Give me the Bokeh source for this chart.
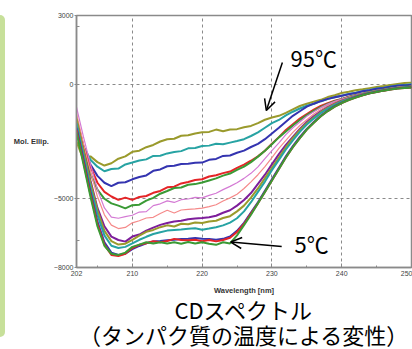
from bokeh.plotting import figure
from bokeh.models import FixedTicker, Label, Arrow, OpenHead, Range1d, Title, Div
from bokeh.layouts import row
from bokeh.embed import file_html
from bokeh.resources import INLINE

# ---- data ----
wavelength = list(range(202, 251))

c_olive1 = [-2500, -3300, -3150, -3400, -3550, -3450, -3250, -3150, -2950, -2900, -2750, -2650, -2500, -2400,
            -2380, -2250, -2230, -2150, -2100, -2080, -1980, -2050, -1980, -1960, -1880, -1820, -1700, -1550,
            -1450, -1380, -1250, -1100, -950, -850, -760, -680, -560, -480, -380, -330, -260, -220, -170, -120,
            -80, -30, 10, 50, 70]
c_teal1 = [-1900, -2700, -3300, -3600, -3800, -3700, -3680, -3500, -3420, -3330, -3280, -3130, -3120, -3020,
           -2960, -2920, -2800, -2780, -2700, -2680, -2600, -2620, -2550, -2480, -2400, -2260, -2100, -1900,
           -1700, -1560, -1360, -1200, -1060, -940, -850, -740, -650, -570, -500, -430, -370, -300, -250, -190,
           -150, -100, -60, -30, 0]
c_blue1 = [-1800, -2800, -3500, -4000, -4300, -4450, -4300, -4280, -4150, -4050, -3980, -3780, -3720, -3580,
           -3560, -3480, -3470, -3430, -3420, -3300, -3260, -3130, -3110, -2990, -2900, -2740, -2600, -2400,
           -2150, -1900, -1640, -1380, -1180, -980, -850, -740, -640, -570, -500, -440, -380, -310, -260, -200,
           -160, -110, -70, -50, -20]
c_red1 = [-1500, -2700, -3600, -4300, -4700, -4900, -5050, -4950, -5050, -4920, -4880, -4740, -4660, -4500,
          -4470, -4330, -4270, -4180, -4150, -4030, -3970, -3880, -3810, -3650, -3510, -3340, -3150, -2900,
          -2600, -2310, -2000, -1750, -1500, -1300, -1110, -950, -830, -720, -640, -550, -480, -410, -350,
          -290, -240, -200, -160, -130, -110]
c_green1 = [-1700, -2900, -3900, -4600, -5000, -5200, -5300, -5420, -5280, -5260, -5080, -4960, -4780, -4660,
            -4530, -4510, -4390, -4360, -4290, -4200, -4110, -3990, -3900, -3740, -3600, -3400, -3160, -2900,
            -2620, -2320, -2060, -1800, -1560, -1350, -1160, -1000, -860, -740, -650, -560, -480, -410, -340,
            -280, -230, -180, -140, -110, -90]
c_pink = [-1000, -2300, -3500, -4600, -5400, -5800, -5850, -5780, -5720, -5580, -5560, -5300, -5220, -5090,
          -5160, -5040, -5010, -4940, -4960, -4850, -4760, -4600, -4460, -4300, -4110, -3890, -3610, -3250,
          -2900, -2560, -2200, -1900, -1650, -1400, -1200, -1020, -870, -750, -650, -560, -480, -410, -340,
          -280, -230, -180, -140, -110, -90]
c_salmon = [-1300, -2600, -3800, -4900, -5700, -6150, -6300, -6250, -6050, -5960, -5840, -5810, -5640, -5500,
            -5620, -5490, -5460, -5440, -5410, -5340, -5260, -5100, -4960, -4800, -4550, -4260, -3950, -3600,
            -3200, -2800, -2450, -2100, -1800, -1550, -1300, -1100, -930, -790, -680, -580, -500, -420, -350,
            -290, -240, -190, -150, -120, -100]
c_purple = [-1600, -2900, -4200, -5400, -6200, -6650, -6800, -6870, -6650, -6560, -6390, -6260, -6140, -6060,
            -5990, -5960, -5890, -5860, -5840, -5810, -5740, -5610, -5500, -5300, -5050, -4750, -4350, -3950,
            -3500, -3050, -2650, -2300, -1950, -1650, -1400, -1180, -1000, -850, -720, -610, -520, -440, -370,
            -300, -250, -200, -160, -130, -110]
c_olive2 = [-1500, -2900, -4300, -5500, -6400, -6850, -7000, -6960, -6790, -6610, -6440, -6360, -6240, -6160,
            -6210, -6090, -6110, -6040, -6060, -5990, -5960, -5840, -5760, -5550, -5300, -4950, -4550, -4100,
            -3650, -3200, -2750, -2350, -2000, -1700, -1450, -1220, -1030, -870, -740, -620, -530, -450, -370,
            -310, -250, -200, -160, -130, -110]
c_teal2 = [-1700, -3100, -4500, -5700, -6600, -7050, -7150, -7100, -6950, -6790, -6660, -6540, -6460, -6390,
           -6360, -6340, -6310, -6290, -6350, -6300, -6240, -6160, -6040, -5850, -5550, -5150, -4700, -4250,
           -3750, -3300, -2850, -2450, -2080, -1760, -1500, -1260, -1060, -900, -760, -640, -540, -460, -380,
           -320, -260, -210, -170, -140, -120]
c_blue2 = [-1900, -3300, -4700, -6000, -6900, -7350, -7450, -7400, -7200, -7060, -6940, -6860, -6840, -6810,
           -6790, -6760, -6740, -6710, -6750, -6760, -6790, -6750, -6650, -6400, -6050, -5600, -5150, -4650,
           -4150, -3650, -3150, -2700, -2300, -1950, -1650, -1380, -1150, -960, -800, -670, -560, -470, -390,
           -330, -270, -220, -180, -150, -130]
c_red2 = [-2000, -3400, -4800, -6100, -7000, -7450, -7500, -7400, -7150, -7010, -6940, -6850, -6900, -6840,
          -6750, -6800, -6810, -6790, -6850, -6800, -6860, -6800, -6700, -6450, -6100, -5650, -5200, -4700,
          -4200, -3700, -3200, -2750, -2350, -1980, -1680, -1400, -1170, -980, -820, -690, -580, -480, -400,
          -340, -280, -230, -190, -160, -140]
c_green2 = [-2100, -3500, -4900, -6200, -7050, -7400, -7450, -7350, -7100, -7000, -6900, -6950, -6900, -6950,
            -6900, -6960, -6890, -6950, -6900, -6960, -7010, -6900, -6950, -6600, -6150, -5700, -5200, -4700,
            -4200, -3700, -3200, -2750, -2350, -1980, -1680, -1400, -1170, -980, -820, -690, -580, -480, -400,
            -340, -280, -230, -190, -160, -140]

series = [c_olive1, c_teal1, c_blue1, c_red1, c_green1, c_pink, c_salmon, c_purple,
          c_olive2, c_teal2, c_blue2, c_red2, c_green2]
colors = ["#9a9a2c", "#27a3a3", "#3434b0", "#e52427", "#3a9a35", "#d47ad4", "#f58a8a", "#7d1e9b",
          "#9a9a2c", "#27a3a3", "#3434b0", "#e52427", "#3a9a35"]
widths = [2, 2, 2, 2, 2, 1.2, 1.2, 2, 2, 2, 2, 2, 2]

x_ticks = [202, 210, 220, 230, 240, 250]
x_minor = [205, 215, 225, 235, 245]
x_grid = [210, 220, 230, 240]
y_ticks = [-8000, -5000, 0, 3000]
y_minor = [2500, -6800]
y_grid = [-5000, 0]

caption_1 = "CDスペクトル"
caption_2 = "（タンパク質の温度による変性）"

FONT_JP = "Noto Sans CJK JP"

p = figure(width=407, height=349, x_range=Range1d(202, 250), y_range=Range1d(-8000, 3000),
           output_backend="svg", toolbar_location=None,
           min_border_left=71, min_border_right=1, min_border_top=15, min_border_bottom=82)
p.background_fill_color = "white"
p.border_fill_color = "white"
p.outline_line_color = "#8a8a8a"
p.outline_line_width = 1.5

for ys, c, w in zip(series, colors, widths):
    p.line(wavelength, ys, line_color=c, line_width=w)

# axes
p.xaxis.ticker = FixedTicker(ticks=x_ticks, minor_ticks=x_minor)
p.yaxis.ticker = FixedTicker(ticks=y_ticks, minor_ticks=y_minor)
for ax in (p.xaxis[0], p.yaxis[0]):
    ax.axis_line_color = "#8a8a8a"
    ax.axis_line_width = 1.5
    ax.major_tick_line_color = "#8a8a8a"
    ax.minor_tick_line_color = "#8a8a8a"
    ax.major_label_text_font = "Liberation Sans"
    ax.major_label_text_font_size = "7px"
    ax.major_label_text_color = "#444444"
    ax.axis_label_text_font = "Liberation Sans"
    ax.axis_label_text_font_size = "7.5px"
    ax.axis_label_text_font_style = "bold"
    ax.axis_label_text_color = "#333333"
p.xaxis.major_tick_in = 4
p.xaxis.major_tick_out = 0
p.xaxis.minor_tick_in = 2
p.xaxis.minor_tick_out = 0
p.xaxis.major_label_standoff = 3
p.xaxis.axis_label = "Wavelength [nm]"
p.xaxis.axis_label_standoff = 7
p.yaxis.major_tick_in = 0
p.yaxis.major_tick_out = 2
p.yaxis.minor_tick_in = 3
p.yaxis.minor_tick_out = 0
p.yaxis.major_label_standoff = 1
p.yaxis.axis_label = "Mol. Ellip."
p.yaxis.axis_label_orientation = "horizontal"
p.yaxis.axis_label_standoff = 2

p.xgrid.ticker = FixedTicker(ticks=x_grid)
p.ygrid.ticker = FixedTicker(ticks=y_grid)
for g in (p.xgrid[0], p.ygrid[0]):
    g.grid_line_color = "#8a8a8a"
    g.grid_line_dash = "3 3"
    g.grid_line_width = 1

# annotations inside the frame
p.add_layout(Label(x=236.0, y=1210, text="95℃", text_font=FONT_JP, text_font_size="22px",
                   text_align="center", text_baseline="middle", text_color="black"))
p.add_layout(Label(x=235.7, y=-6950, text="5℃", text_font=FONT_JP, text_font_size="22px",
                   text_align="center", text_baseline="middle", text_color="black"))
p.add_layout(Arrow(end=OpenHead(size=11, line_width=1.5, line_color="black"),
                   x_start=231.5, y_start=950, x_end=229.2, y_end=-1150,
                   line_width=1.5, line_color="black"))
p.add_layout(Arrow(end=OpenHead(size=11, line_width=1.5, line_color="black"),
                   x_start=231.4, y_start=-7080, x_end=224.1, y_end=-6890,
                   line_width=1.5, line_color="black"))

# captions below the axis
p.add_layout(Title(text=caption_1, align="center", text_font=FONT_JP, text_font_size="22px",
                   text_font_style="normal", text_color="black", standoff=-13), "below")
p.add_layout(Title(text=caption_2, align="center", text_font=FONT_JP, text_font_size="22px",
                   text_font_style="normal", text_color="black", standoff=-5), "below")

# decorative green side panel
side = Div(text="", width=5, height=322, margin=(15, 0, 0, 0),
           styles={"background-color": "#c7e09a", "border-radius": "0 5px 5px 0"})

layout = row(side, p, spacing=0)

open("out.html", "w").write(file_html(layout, INLINE))
